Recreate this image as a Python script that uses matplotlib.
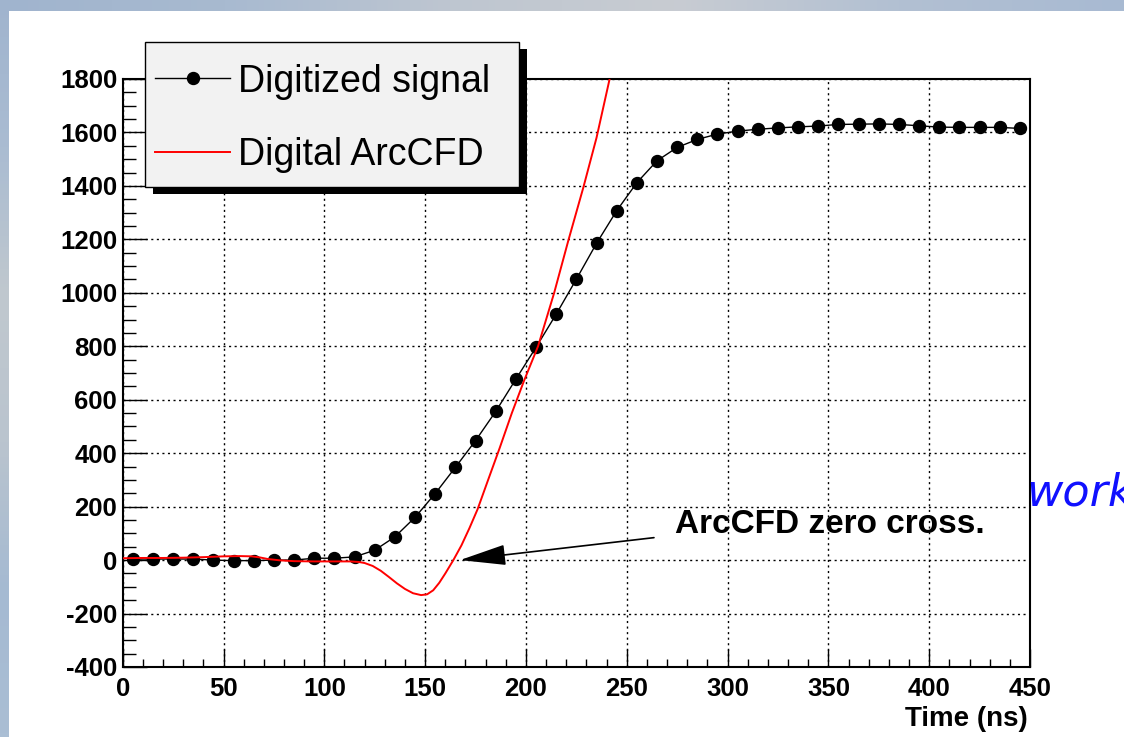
import numpy as np
import matplotlib
matplotlib.use("Agg")
import matplotlib.pyplot as plt
from matplotlib.patches import Rectangle
from matplotlib.lines import Line2D

plt.rcParams['font.family'] = ['Liberation Sans', 'DejaVu Sans']
plt.rcParams['axes.unicode_minus'] = False

# Digitized signal samples (ns, ADC counts)
sample_times = [5, 15, 25, 35, 45, 55, 65, 75, 85, 95, 105, 115, 125, 135, 145,
                155, 165, 175, 185, 195, 205, 215, 225, 235, 245, 255, 265, 275,
                285, 295, 305, 315, 325, 335, 345, 355, 365, 375, 385, 395, 405,
                415, 425, 435, 445]
signal_values = [4, 4, 4, 4, 0, -2, -2, 0, 0, 7, 7, 12, 37, 87, 160,
                 249, 347, 447, 556, 677, 796, 920, 1051, 1185, 1307, 1412, 1494, 1544,
                 1574, 1594, 1605, 1612, 1617, 1621, 1624, 1630, 1631, 1632, 1630, 1625, 1620,
                 1619, 1619, 1619, 1615]

# Digital ArcCFD output
cfd_times = [0, 10, 20, 30, 40, 50, 58, 64, 68, 72, 78, 85, 95, 105, 113, 117, 120,
             124, 128, 132, 136, 140, 144, 148, 151, 154, 157, 160, 164, 168, 172,
             176, 181, 187, 193, 199, 206, 214, 221, 228.5, 235, 241.5, 244]
cfd_values = [7, 8, 8, 9, 11, 14, 15, 14, 10, 4, -1, -4, -5, -5, -5, -7, -11,
              -22, -40, -63, -87, -108, -124, -131, -128, -113, -85, -50, 0, 55, 120,
              190, 295, 420, 550, 670, 800, 1000, 1195, 1395, 1580, 1800, 1880]

zero_cross_time = 167.3
label_text = "ArcCFD zero cross."
x_ticks = [0, 50, 100, 150, 200, 250, 300, 350, 400, 450]
y_ticks = [-400, -200, 0, 200, 400, 600, 800, 1000, 1200, 1400, 1600, 1800]

W, H = 1124, 737
fig = plt.figure(figsize=(W / 100, H / 100), dpi=100)
fig.patch.set_facecolor('white')

# slide backdrop strips along the top and left edges
bg = fig.add_axes([0, 0, 1, 1], zorder=-10)
bg.axis('off')
top_cols = np.array([[160, 180, 206], [168, 186, 208], [190, 198, 208],
                     [200, 204, 210], [178, 192, 210], [168, 186, 210]]) / 255.0
top_grad = np.array([np.interp(np.linspace(0, 1, 200), np.linspace(0, 1, len(top_cols)), top_cols[:, c])
                     for c in range(3)]).T[None, :, :]
bg.imshow(top_grad, extent=(0, W, 11, 0), aspect='auto')
left_cols = np.array([[160, 180, 206], [170, 188, 210], [192, 200, 206],
                      [186, 196, 206], [165, 186, 210], [170, 190, 212]]) / 255.0
left_grad = np.array([np.interp(np.linspace(0, 1, 200), np.linspace(0, 1, len(left_cols)), left_cols[:, c])
                      for c in range(3)]).T[:, None, :]
bg.imshow(left_grad, extent=(0, 9, H, 0), aspect='auto')
bg.set_xlim(0, W)
bg.set_ylim(H, 0)

ax_l, ax_r, ax_t, ax_b = 122.7, 1030, 79, 667
ax = fig.add_axes([ax_l / W, 1 - ax_b / H, (ax_r - ax_l) / W, (ax_b - ax_t) / H])
ax.set_xlim(0, 450)
ax.set_ylim(-400, 1800)

ax.plot(sample_times, signal_values, color='black', lw=1.0, marker='o',
        markersize=8.6, markerfacecolor='black', markeredgecolor='black', zorder=3)
ax.plot(cfd_times, cfd_values, color='#ff0000', lw=1.4, zorder=4)

ax.set_xticks(x_ticks)
ax.set_yticks(y_ticks)
ax.set_xticks(np.arange(0, 451, 10), minor=True)
ax.set_yticks(np.arange(-400, 1801, 50), minor=True)
ax.grid(True, which='major', color='black', lw=1.0, linestyle=(0, (1.5, 2.5)))
ax.tick_params(axis='both', which='both', direction='in', width=1.0, colors='black')
ax.tick_params(axis='x', which='major', length=13, pad=7)
ax.tick_params(axis='x', which='minor', length=6)
ax.tick_params(axis='y', which='major', length=17, pad=4)
ax.tick_params(axis='y', which='minor', length=9.5)
for lab in ax.get_xticklabels() + ax.get_yticklabels():
    lab.set_fontsize(18.5)
    lab.set_fontweight('bold')
for sp in ax.spines.values():
    sp.set_linewidth(1.5)

fig.text(1028 / W, 1 - 726 / H, "Time (ns)", ha='right', va='baseline',
         fontsize=20, fontweight='bold')

# zero-crossing annotation
ax.annotate('', xy=(zero_cross_time, 0), xytext=(263.5, 84),
            arrowprops=dict(arrowstyle='-|>,head_length=2.9,head_width=0.65',
                            mutation_scale=10, color='black', lw=1.2,
                            shrinkA=0, shrinkB=0), zorder=5)
ax.text(273.7, 135, label_text, ha='left', va='center', fontsize=24,
        fontweight='bold', zorder=5)

# legend box with drop shadow
def fx(px):
    return px / W

def fy(py):
    return 1 - py / H

lx0, ly0, lx1, ly1 = 145, 41.7, 519, 187
fig.add_artist(Rectangle((fx(lx0 + 8), fy(ly1 + 7)), fx(lx1 - lx0), (ly1 - ly0) / H,
                         transform=fig.transFigure, facecolor='black',
                         edgecolor='black', lw=0, zorder=10))
fig.add_artist(Rectangle((fx(lx0), fy(ly1)), fx(lx1 - lx0), (ly1 - ly0) / H,
                         transform=fig.transFigure, facecolor='#f2f2f2',
                         edgecolor='black', lw=1.0, zorder=11))
fig.add_artist(Line2D([fx(155), fx(230)], [fy(78.3), fy(78.3)], color='black', lw=1.0,
                      transform=fig.transFigure, zorder=12))
fig.add_artist(Line2D([fx(192.5)], [fy(78.3)], color='black', marker='o', markersize=8.6,
                      transform=fig.transFigure, zorder=12))
fig.add_artist(Line2D([fx(155), fx(230)], [fy(151.7), fy(151.7)], color='#ff0000', lw=1.4,
                      transform=fig.transFigure, zorder=12))
fig.text(fx(238), fy(91.7), "Digitized signal", fontsize=27, va='baseline', ha='left', zorder=13)
fig.text(fx(238), fy(165), "Digital ArcCFD", fontsize=27, va='baseline', ha='left', zorder=13)

# slide text running off the right edge
fig.text(fx(1026), fy(505), "work", fontsize=32, style='italic', color='#1010ff',
         family=['DejaVu Sans'], ha='left', va='baseline')

fig.savefig("out.png", dpi=100)
